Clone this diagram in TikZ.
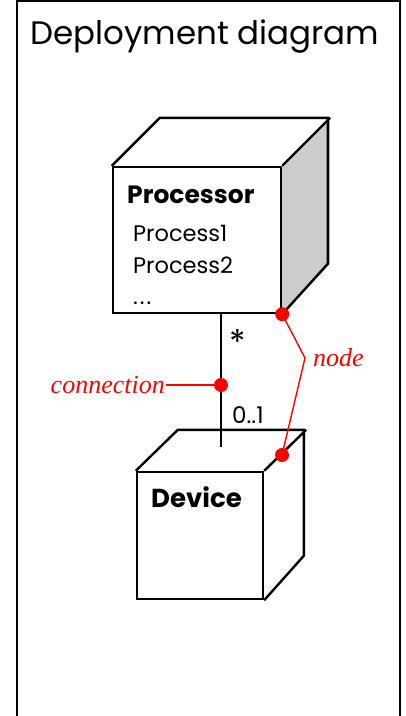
\documentclass[tikz,border=0pt]{standalone}
\usepackage{fontspec}
\setmainfont{Poppins}
\newfontfamily\labelfont{Liberation Serif}
\usetikzlibrary{positioning}

\begin{document}
\begin{tikzpicture}
    [x=1pt, y=-1pt,
    % Styles
    cube front/.style={draw, line width=2.4pt, minimum width=#1, inner sep=0pt},
    cube edge/.style={line width=2.4pt, line join=miter},
    link/.style={line width=1.4pt},
    note line/.style={red, line width=1.4pt},
    note text/.style={red, font=\labelfont\itshape\fontsize{26}{30}\selectfont, inner sep=1pt},
    dot/.style={red, fill}]

    % Colors
    \colorlet{sidecolor}{black!20}

    \useasboundingbox (0,0) rectangle (405,716);

    % Frame and title
    \draw[line width=2pt] (17,716) -- (17,1) -- (400,1) -- (400,716);
    \node[anchor=base] (title) at (205,44) {\fontsize{32.5}{38}\selectfont Deployment diagram};

    % Processor
    \node[cube front=168pt, minimum height=146pt] (proc) at (197,240) {};
    \fill[sidecolor] (proc.north east) -- ++(48,-48) -- ++(0,146) -- (proc.south east) -- cycle;
    \draw[cube edge] (proc.north west) -- ++(48,-48) -- ++(168,0) -- ++(0,146) -- (proc.south east);
    \draw[cube edge] (proc.north east) -- ++(48,-48);
    \node[anchor=base west, inner sep=0pt] (proctitle) at (127,203) {\fontsize{25}{30}\selectfont\bfseries Processor};
    \node[anchor=base west, inner sep=0pt] (proc1) at (133,241) {\fontsize{22.5}{26}\selectfont Process1};
    \node[anchor=base west, inner sep=0pt] (proc2) at (133,273) {\fontsize{22.5}{26}\selectfont Process2};
    \node[anchor=base west, inner sep=0pt] (procmore) at (133,304) {\fontsize{22.5}{26}\selectfont .\kern2pt.\kern2pt.};

    % Device
    \node[cube front=126pt, minimum height=127pt] (dev) at (200,535.5) {};
    \draw[cube edge] (dev.north west) -- ++(42,-41) -- ++(126,0) -- ++(0,126) -- (dev.south east);
    \draw[cube edge] (dev.north east) -- ++(42,-41);
    \node[anchor=base west, inner sep=0pt] (devtitle) at (151,507) {\fontsize{26}{30}\selectfont\bfseries Device};

    % Connection with multiplicities
    \coordinate (connend) at (221,447);
    \draw[link] (proc.south -| connend) -- (connend);
    \node (many) at (238,342) {\fontsize{34}{38}\selectfont *};
    \node[anchor=base west, inner sep=0pt] (opt) at (232,423) {\fontsize{23}{26}\selectfont 0..1};

    % Notes
    \coordinate (conndot) at (221,385);
    \coordinate (kink) at (305,358);
    \coordinate (devdot) at (282,455);
    \node[note text, anchor=base east] (conntext) at (166,393) {connection};
    \node[note text, anchor=base west] (nodetext) at (312,366) {node};
    \draw[note line] (conntext.east |- conndot) -- (conndot);
    \draw[note line] (proc.south east) -- (kink) -- (devdot);
    \fill[dot] (conndot) circle (7);
    \fill[dot] (proc.south east) circle (7);
    \fill[dot] (devdot) circle (7);
\end{tikzpicture}
\end{document}
